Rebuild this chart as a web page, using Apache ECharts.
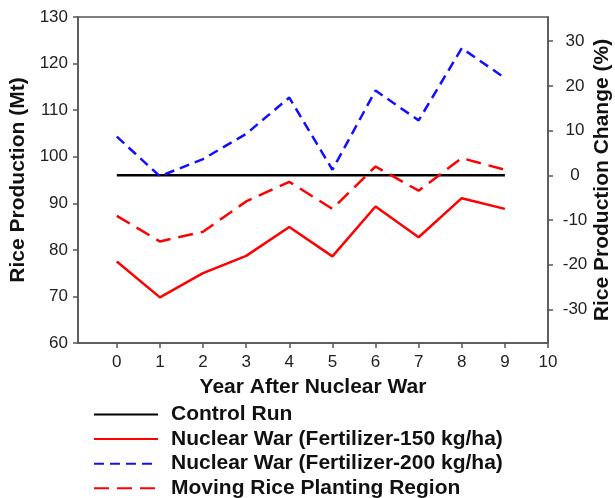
<!doctype html>
<html>
<head>
    <meta charset="UTF-8">
    <title>Rice Production</title>
    <script src="https://cdn.jsdelivr.net/npm/echarts@6/dist/echarts.min.js"></script>
    <style>
        html, body { margin: 0; padding: 0; background: #fff; }
    </style>
</head>
<body>
<div id="main" style="width: 615px;height:498px;"></div>
<script type="text/javascript">
    var years = [0, 1, 2, 3, 4, 5, 6, 7, 8, 9];
    var xTicks = [0, 1, 2, 3, 4, 5, 6, 7, 8, 9, 10];
    var leftTicks = [60, 70, 80, 90, 100, 110, 120, 130];
    var rightTicks = [-30, -20, -10, 0, 10, 20, 30];
    var controlRun = [96, 96, 96, 96, 96, 96, 96, 96, 96, 96];
    var fert150 = [77.5, 69.8, 75.0, 78.7, 84.9, 78.6, 89.3, 82.7, 91.1, 88.8];
    var fert200 = [104.3, 95.8, 99.5, 104.9, 112.7, 97.2, 114.2, 107.8, 123.3, 116.9];
    var moving = [87.3, 81.8, 83.9, 90.4, 94.6, 88.8, 97.9, 92.7, 99.7, 97.2];
    var seriesNames = ['Control Run', 'Nuclear War (Fertilizer-150 kg/ha)',
        'Nuclear War (Fertilizer-200 kg/ha)', 'Moving Rice Planting Region'];

    var font = 'Liberation Sans, Arial, sans-serif';
    var axisColor = '#555';
    var ctrl = controlRun[0];
    var titleStyle = { fontFamily: font, fontSize: 21, fontWeight: 'bold', color: '#111' };
    var labelStyle = { fontFamily: font, fontSize: 17, color: '#222' };

    function pairs(vals) {
        return years.map(function (y, i) { return [y, vals[i]]; });
    }

    var myChart = echarts.init(document.getElementById('main'));
    var option = {
        backgroundColor: '#fff',
        animation: false,
        grid: {
            left: 78, right: 67, top: 17, bottom: 155,
            outerBoundsMode: 'none',
            containLabel: false,
            show: true, borderColor: axisColor, borderWidth: 1.5
        },
        legend: {
            orient: 'vertical',
            left: 93,
            top: 404,
            height: 150,
            padding: 0,
            itemWidth: 64,
            itemHeight: 14,
            itemGap: 3.6,
            selectedMode: false,
            itemStyle: { opacity: 0 },
            data: seriesNames,
            textStyle: {
                fontFamily: font, fontSize: 21, fontWeight: 'bold', color: '#111',
                padding: [0, 0, 0, 8]
            }
        },
        xAxis: {
            type: 'value',
            min: -0.9,
            max: 10,
            name: 'Year After Nuclear War',
            nameLocation: 'middle',
            nameGap: 34,
            nameTextStyle: titleStyle,
            axisLine: { onZero: false, lineStyle: { color: axisColor, width: 1.5 } },
            axisTick: { show: true, length: 5, customValues: xTicks, lineStyle: { color: axisColor, width: 1.5 } },
            axisLabel: Object.assign({ customValues: xTicks, margin: 11 }, labelStyle),
            splitLine: { show: false }
        },
        yAxis: [{
            type: 'value',
            min: 60,
            max: 130,
            position: 'left',
            name: 'Rice Production (Mt)',
            nameLocation: 'middle',
            nameRotate: 90,
            nameGap: 49,
            nameTextStyle: titleStyle,
            axisLine: { show: true, onZero: false, lineStyle: { color: axisColor, width: 1.5 } },
            axisTick: { show: true, length: 5, customValues: leftTicks, lineStyle: { color: axisColor, width: 1.5 } },
            axisLabel: Object.assign({ customValues: leftTicks, margin: 10 }, labelStyle),
            splitLine: { show: false }
        }, {
            type: 'value',
            min: (60 - ctrl) / ctrl * 100,
            max: (130 - ctrl) / ctrl * 100,
            position: 'right',
            name: 'Rice Production Change (%)',
            nameLocation: 'middle',
            nameRotate: 90,
            nameGap: 44,
            nameMoveOverlap: false,
            nameTextStyle: titleStyle,
            axisLine: { show: true, onZero: false, lineStyle: { color: axisColor, width: 1.5 } },
            axisTick: { show: true, length: 5, customValues: rightTicks, lineStyle: { color: axisColor, width: 1.5 } },
            axisLabel: Object.assign({ customValues: rightTicks, margin: 27, align: 'center' }, labelStyle),
            splitLine: { show: false }
        }],
        series: [{
            name: seriesNames[0],
            type: 'line',
            symbol: 'none',
            data: pairs(controlRun),
            lineStyle: { color: '#000', width: 2.5 },
            itemStyle: { color: '#000' }
        }, {
            name: seriesNames[1],
            type: 'line',
            symbol: 'none',
            data: pairs(fert150),
            lineStyle: { color: '#ff0000', width: 2.5 },
            itemStyle: { color: '#ff0000' }
        }, {
            name: seriesNames[2],
            type: 'line',
            symbol: 'none',
            data: pairs(fert200),
            lineStyle: { color: '#1010ff', width: 2.5, type: [10, 6] },
            itemStyle: { color: '#1010ff' }
        }, {
            name: seriesNames[3],
            type: 'line',
            symbol: 'none',
            data: pairs(moving),
            lineStyle: { color: '#ff0000', width: 2.5, type: [15, 8] },
            itemStyle: { color: '#ff0000' }
        }]
    };
    myChart.setOption(option);
</script>
</body>
</html>
